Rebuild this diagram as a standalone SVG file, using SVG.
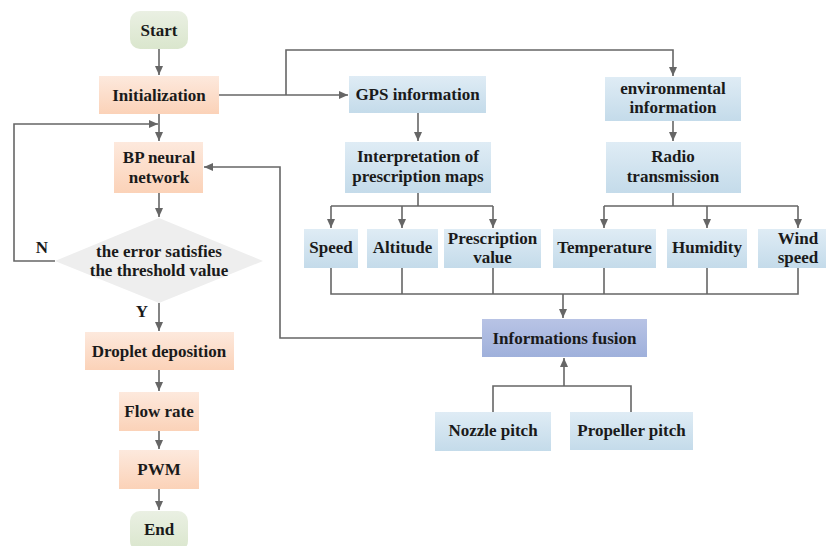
<svg xmlns="http://www.w3.org/2000/svg" width="828" height="546" viewBox="0 0 828 546">
<defs>
<linearGradient id="gOr" x1="0" y1="0" x2="0" y2="1"><stop offset="0" stop-color="#fde9dd"/><stop offset="1" stop-color="#fbd2b8"/></linearGradient>
<linearGradient id="gBl" x1="0" y1="0" x2="0" y2="1"><stop offset="0" stop-color="#dfecf5"/><stop offset="1" stop-color="#c4dbea"/></linearGradient>
<linearGradient id="gGr" x1="0" y1="0" x2="0" y2="1"><stop offset="0" stop-color="#eaf0e3"/><stop offset="1" stop-color="#dae6cd"/></linearGradient>
<linearGradient id="gPu" x1="0" y1="0" x2="0" y2="1"><stop offset="0" stop-color="#b8c3e5"/><stop offset="1" stop-color="#9fb0db"/></linearGradient>
<marker id="ah" markerUnits="userSpaceOnUse" markerWidth="10" markerHeight="10" refX="9" refY="4" orient="auto"><path d="M0,0 L9,4 L0,8 z" fill="#666"/></marker>
<style>
text{font-family:"Liberation Serif","Times New Roman",serif;font-weight:bold;font-size:17px;fill:#1a1a1a;text-anchor:middle}
.or{fill:url(#gOr)}
.bl{fill:url(#gBl)}
.gr{fill:url(#gGr)}
.pu{fill:url(#gPu)}
.c path{fill:none;stroke:#666;stroke-width:1.6}
.a{marker-end:url(#ah)}
</style>
</defs>
<g class="c" id="connectors">
<path class="a" d="M159,49 V75"/>
<path class="a" d="M159,114 V141"/>
<path class="a" d="M55,261 H14 V124 H158"/>
<path class="a" d="M159,193 V217"/>
<path class="a" d="M159,303 V331"/>
<path class="a" d="M159,370 V391"/>
<path class="a" d="M159,431 V449"/>
<path class="a" d="M159,489 V510"/>
<path class="a" d="M219,95 H348"/>
<path class="a" d="M286,95 V50 H673 V76"/>
<path class="a" d="M418,113 V141"/>
<path class="a" d="M673,121 V141"/>
<path d="M418,193 V206 M331,206 H493"/>
<path class="a" d="M331,206 V228"/>
<path class="a" d="M402,206 V228"/>
<path class="a" d="M493,206 V228"/>
<path d="M673,193 V206 M604,206 H798"/>
<path class="a" d="M604,206 V228"/>
<path class="a" d="M707,206 V228"/>
<path class="a" d="M798,206 V228"/>
<path d="M331,268 V294 H798 V268 M402,268 V294 M493,268 V294 M604,268 V294 M707,268 V294"/>
<path class="a" d="M563,294 V318"/>
<path class="a" d="M482,338 H280 V167 H204"/>
<path d="M493,412 V386 H631 V412"/>
<path class="a" d="M564,386 V358"/>
</g>
<g id="start"><rect class="gr" x="130" y="11" width="58" height="38" rx="10"/><text x="159" y="36">Start</text></g>
<g id="init"><rect class="or" x="99" y="76" width="120" height="38"/><text x="159" y="101">Initialization</text></g>
<g id="bp"><rect class="or" x="114" y="142" width="89" height="51"/><text x="159" y="163">BP neural</text><text x="159" y="183">network</text></g>
<g id="decision"><polygon points="159,218 263,261 159,303 55,261" fill="#eeeeee"/><text x="159" y="257">the error satisfies</text><text x="159" y="276">the threshold value</text></g>
<g id="labels"><text x="42" y="253">N</text><text x="142" y="317">Y</text></g>
<g id="droplet"><rect class="or" x="85" y="332" width="149" height="38"/><text x="159" y="357">Droplet deposition</text></g>
<g id="flow"><rect class="or" x="119" y="392" width="80" height="39"/><text x="159" y="417">Flow rate</text></g>
<g id="pwm"><rect class="or" x="119" y="450" width="80" height="39"/><text x="159" y="475">PWM</text></g>
<g id="end"><rect class="gr" x="130" y="511" width="58" height="40" rx="10"/><text x="159" y="535">End</text></g>
<g id="gps"><rect class="bl" x="349" y="76" width="137" height="37"/><text x="417.5" y="100">GPS information</text></g>
<g id="interp"><rect class="bl" x="345" y="142" width="146" height="51"/><text x="418" y="162">Interpretation of</text><text x="418" y="182">prescription maps</text></g>
<g id="env"><rect class="bl" x="605" y="77" width="136" height="44"/><text x="673" y="94">environmental</text><text x="673" y="113">information</text></g>
<g id="radio"><rect class="bl" x="606" y="142" width="135" height="51"/><text x="673" y="162">Radio</text><text x="673" y="182">transmission</text></g>
<g id="speed"><rect class="bl" x="304" y="229" width="54" height="39"/><text x="331" y="253">Speed</text></g>
<g id="altitude"><rect class="bl" x="367" y="229" width="71" height="39"/><text x="402.5" y="253">Altitude</text></g>
<g id="prescription"><rect class="bl" x="444" y="229" width="97" height="39"/><text x="492.5" y="244">Prescription</text><text x="492.5" y="263">value</text></g>
<g id="temperature"><rect class="bl" x="553" y="229" width="103" height="39"/><text x="604.5" y="253">Temperature</text></g>
<g id="humidity"><rect class="bl" x="667" y="229" width="80" height="39"/><text x="707" y="253">Humidity</text></g>
<g id="wind"><rect class="bl" x="758" y="229" width="68" height="39"/><text x="798" y="244">Wind</text><text x="798" y="263">speed</text></g>
<g id="fusion"><rect class="pu" x="482" y="319" width="165" height="38"/><text x="564.5" y="344">Informations fusion</text></g>
<g id="nozzle"><rect class="bl" x="435" y="412" width="116" height="39"/><text x="493" y="436">Nozzle pitch</text></g>
<g id="propeller"><rect class="bl" x="570" y="412" width="123" height="38"/><text x="631.5" y="436">Propeller pitch</text></g>
</svg>
